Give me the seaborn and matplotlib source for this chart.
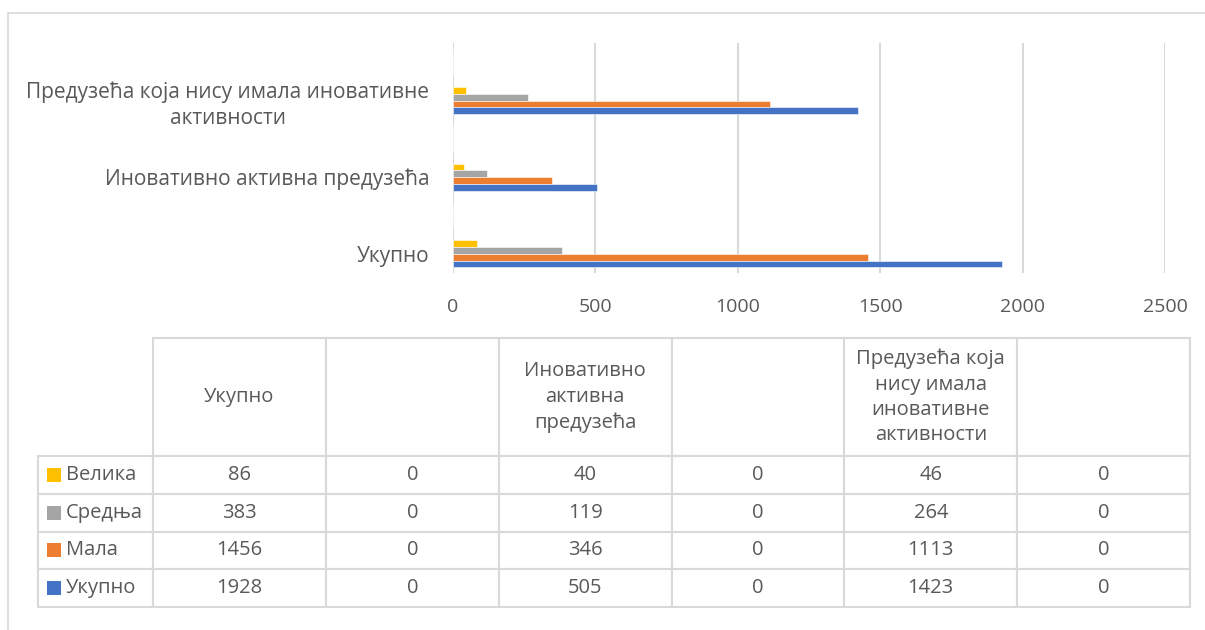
import numpy as np
import pandas as pd
import seaborn as sns
import matplotlib.pyplot as plt
from matplotlib.patches import Rectangle

categories = ["Укупно", " ", "Иновативно активна предузећа", "  ",
              "Предузећа која нису имала иновативне активности", "   "]
header_labels = ["Укупно", "", "Иновативно\nактивна\nпредузећа", "",
                 "Предузећа која\nнису имала\nиновативне\nактивности", ""]
tick_labels = {"Предузећа која нису имала иновативне активности":
               "Предузећа која нису имала иновативне\nактивности"}
series = ["Велика", "Средња", "Мала", "Укупно"]
velika = [86, 0, 40, 0, 46, 0]
srednja = [383, 0, 119, 0, 264, 0]
mala = [1456, 0, 346, 0, 1113, 0]
ukupno = [1928, 0, 505, 0, 1423, 0]
colors = ["#FFC000", "#A5A5A5", "#ED7D31", "#4472C4"]

values = {"Велика": velika, "Средња": srednja, "Мала": mala, "Укупно": ukupno}
rows = []
for s in series:
    for c, v in zip(categories, values[s]):
        rows.append({"category": c, "series": s, "value": v})
df = pd.DataFrame(rows)

sns.set_style("white")
plt.rcParams['font.family'] = ['Open Sans', 'DejaVu Sans']
text_color = "#595959"
grid_color = "#D9D9D9"

W, H = 1205, 630
fig = plt.figure(figsize=(W / 100, H / 100), dpi=100)

def px_box(x0, y0, x1, y1):
    return [x0 / W, 1 - y1 / H, (x1 - x0) / W, (y1 - y0) / H]

# outer chart frame
fig.add_artist(Rectangle((8 / W, -0.05), 1.1, 1 - 13 / H + 0.05, transform=fig.transFigure,
                         fill=False, edgecolor=grid_color, linewidth=1.2))

# bar chart
ax = fig.add_axes(px_box(453, 43, 1165, 273))
sns.barplot(data=df, x="value", y="category", hue="series",
            order=categories[::-1], hue_order=series, palette=colors,
            saturation=1, width=0.70, orient="h", legend=False,
            edgecolor="white", linewidth=0.4, ax=ax)
ax.set_xlim(0, 2500)
ax.set_xticks(np.arange(0, 2501, 500))
ax.grid(axis="x", color=grid_color, linewidth=1.5)
ax.set_axisbelow(True)
for sp in ax.spines.values():
    sp.set_visible(False)
ax.set_xlabel("")
ax.set_ylabel("")
ax.set_yticks(range(len(categories)))
ax.set_yticklabels([tick_labels.get(c, c) for c in categories[::-1]],
                   multialignment="center", linespacing=1.3)
ax.tick_params(axis="both", length=0, labelcolor=text_color)
ax.tick_params(axis="x", pad=18, labelsize=14)
ax.tick_params(axis="y", pad=17, labelsize=15)

# data table (first column holds the series names / legend keys)
x0, x1, y0, y1 = 38, 1190, 338, 607
total_w = x1 - x0
total_h = y1 - y0
label_w = 153 - x0
col_w = (total_w - label_w) / len(categories)
head_h = 456 - y0
row_h = (total_h - head_h) / len(series)

tax = fig.add_axes(px_box(x0, y0, x1, y1))
tax.axis("off")
cell_text = [[s] + [str(v) for v in values[s]] for s in series]
tbl = tax.table(cellText=cell_text, colLabels=[""] + header_labels,
                colWidths=[label_w / total_w] + [col_w / total_w] * len(categories),
                cellLoc="center", colLoc="center", bbox=[0, 0, 1, 1])
tbl.auto_set_font_size(False)
tbl.set_fontsize(14.5)
for (r, c), cell in tbl.get_celld().items():
    cell.set_edgecolor(grid_color)
    cell.set_linewidth(1.5)
    cell.get_text().set_color(text_color)
    cell.get_text().set_linespacing(1.35)
    cell.set_height(head_h if r == 0 else row_h)
    if c == 0:
        if r == 0:
            cell.visible_edges = ""
        else:
            cell.get_text().set_ha("left")
            cell._loc = "left"
            cell.PAD = 28 / label_w

# legend keys in the first column
for i, col in enumerate(colors):
    yc = 1 - (head_h + row_h * (i + 0.5)) / total_h
    tax.add_patch(Rectangle((9 / total_w, yc - 7 / total_h), 14 / total_w, 14 / total_h,
                            transform=tax.transAxes, facecolor=col, edgecolor="none",
                            zorder=5))

fig.savefig("out.png", dpi=100)
